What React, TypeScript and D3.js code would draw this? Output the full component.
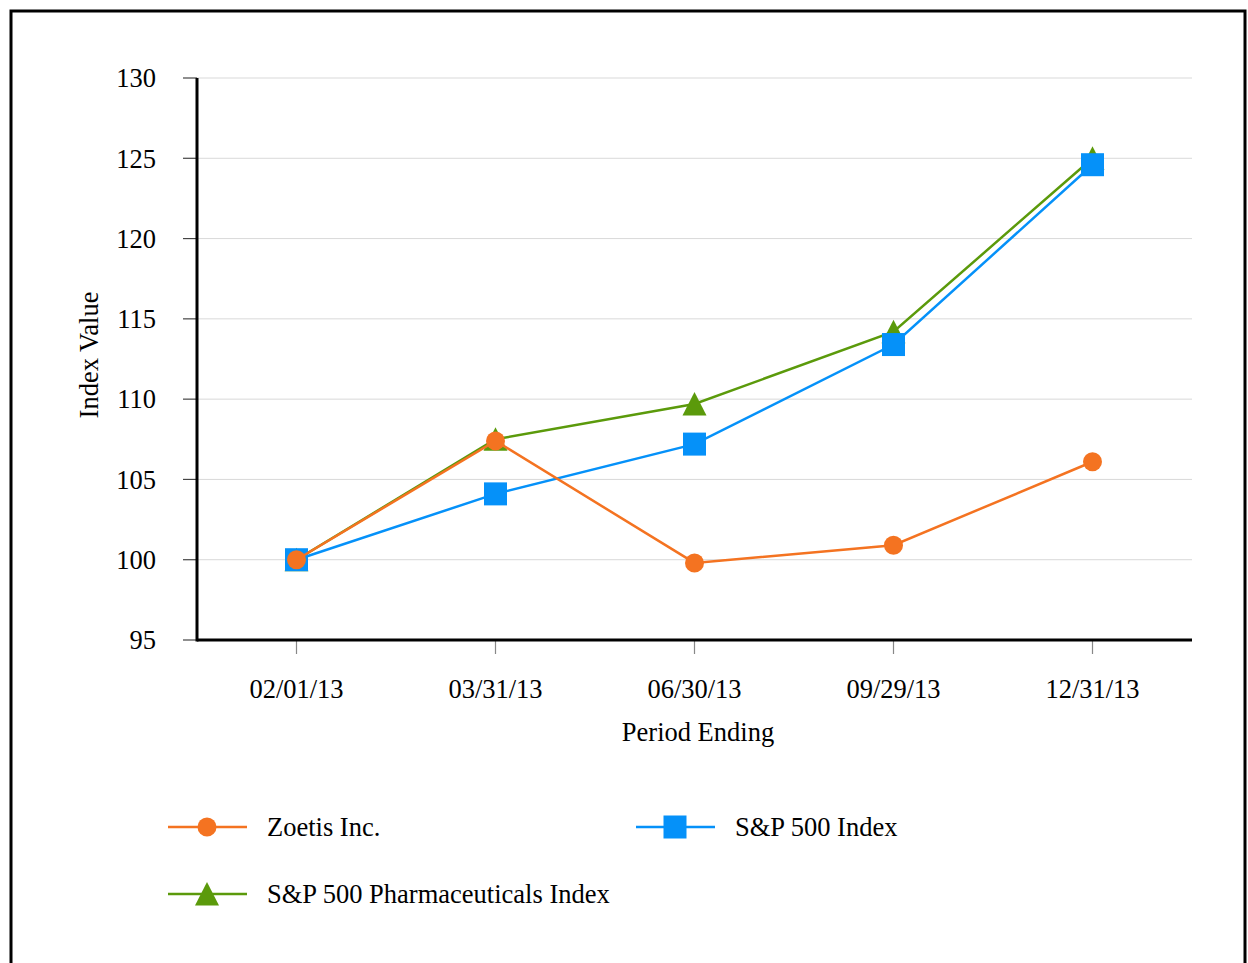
import React from 'react';
import * as d3 from 'd3';

const periods = ['02/01/13', '03/31/13', '06/30/13', '09/29/13', '12/31/13'];
const zoetis = [100, 107.4, 99.8, 100.9, 106.1];
const sp500 = [100, 104.1, 107.2, 113.4, 124.6];
const pharma = [100, 107.5, 109.7, 114.2, 125.0];
const yTicks = [95, 100, 105, 110, 115, 120, 125, 130];

const series = [
  { name: 'Zoetis Inc.', values: zoetis, color: '#f47321', marker: 'circle' },
  { name: 'S&P 500 Index', values: sp500, color: '#0591f9', marker: 'square' },
  { name: 'S&P 500 Pharmaceuticals Index', values: pharma, color: '#5b9a0b', marker: 'triangle' },
];

const margin = { top: 78, right: 56, bottom: 323, left: 197 };
const width = 1248;
const height = 963;
const font = '"Liberation Serif", "Times New Roman", serif';
const fs = 26.5;

function Marker({ kind, x, y, color }: { kind: string; x: number; y: number; color: string }) {
  if (kind === 'circle') return <circle cx={x} cy={y} r={9.5} fill={color} />;
  if (kind === 'square') return <rect x={x - 11.5} y={y - 11.5} width={23} height={23} fill={color} />;
  // triangle centred on its bounding box
  const tri = d3.line()([[0, -12], [12, 11.5], [-12, 11.5]]) + 'Z';
  return <path d={tri} transform={`translate(${x},${y})`} fill={color} />;
}

export default function App() {
  const w = width - margin.left - margin.right;
  const h = height - margin.top - margin.bottom;

  const x = d3.scalePoint().domain(periods).range([margin.left, margin.left + w]).padding(0.5);
  const y = d3.scaleLinear().domain([95, 130]).range([margin.top + h, margin.top]);

  const line = d3.line<number>()
    .x((_, i) => x(periods[i]) as number)
    .y(d => y(d));

  const legendRows = [
    { s: series[0], lx: 168, ly: 827 },
    { s: series[1], lx: 636, ly: 827 },
    { s: series[2], lx: 168, ly: 894 },
  ];

  return (
    <svg width={width} height={height} style={{ position: 'absolute', left: 0, top: 0, background: '#fff' }}>
      <rect x={11} y={11} width={1234} height={1000} fill="none" stroke="#000" strokeWidth={3} />

      {yTicks.map(t => (
        <g key={t}>
          <line x1={margin.left} x2={margin.left + w} y1={y(t)} y2={y(t)} stroke="#d9d9d9" strokeWidth={1} />
          <line x1={183} x2={margin.left} y1={y(t)} y2={y(t)} stroke="#444" strokeWidth={1.2} />
          <text x={156} y={y(t)} dy="0.35em" textAnchor="end" fontFamily={font} fontSize={fs} fill="#000">{t}</text>
        </g>
      ))}

      {periods.map(p => (
        <g key={p}>
          <line x1={x(p)} x2={x(p)} y1={margin.top + h} y2={margin.top + h + 14} stroke="#888" strokeWidth={1.2} />
          <text x={x(p)} y={698} textAnchor="middle" fontFamily={font} fontSize={fs} fill="#000">{p}</text>
        </g>
      ))}

      <line x1={margin.left} x2={margin.left} y1={margin.top} y2={margin.top + h + 1.5} stroke="#000" strokeWidth={3} />
      <line x1={margin.left} x2={margin.left + w} y1={margin.top + h} y2={margin.top + h} stroke="#000" strokeWidth={3} />

      <text x={698} y={741} textAnchor="middle" fontFamily={font} fontSize={fs} fill="#000">Period Ending</text>
      <text transform={`translate(98,355) rotate(-90)`} textAnchor="middle" fontFamily={font} fontSize={fs} fill="#000">Index Value</text>

      {[series[2], series[1], series[0]].map(s => (
        <g key={s.name}>
          <path d={line(s.values) || ''} fill="none" stroke={s.color} strokeWidth={2.5} />
          {s.values.map((v, i) => (
            <Marker key={i} kind={s.marker} x={x(periods[i]) as number} y={y(v)} color={s.color} />
          ))}
        </g>
      ))}

      {legendRows.map(({ s, lx, ly }) => (
        <g key={s.name}>
          <line x1={lx} x2={lx + 79} y1={ly} y2={ly} stroke={s.color} strokeWidth={2.5} />
          <Marker kind={s.marker} x={lx + 39} y={ly} color={s.color} />
          <text x={lx + 99} y={ly} dy="0.35em" fontFamily={font} fontSize={fs} fill="#000">{s.name}</text>
        </g>
      ))}
    </svg>
  );
}
